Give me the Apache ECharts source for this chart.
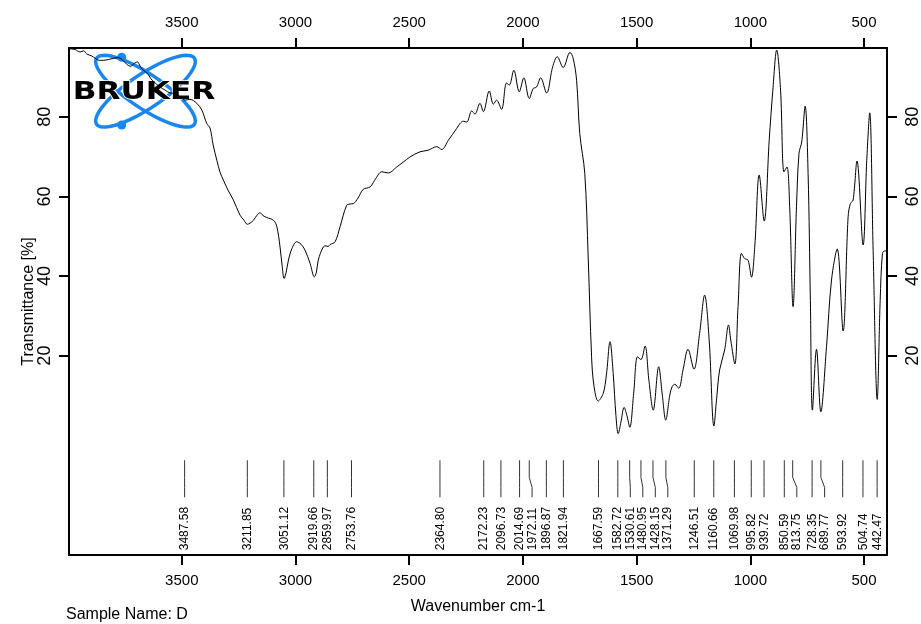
<!DOCTYPE html>
<html>
<head>
<meta charset="utf-8">
<script src="https://cdn.jsdelivr.net/npm/echarts@6/dist/echarts.min.js"></script>
<style>
  html, body { margin: 0; padding: 0; background: #fff; }
  #irSpectrum { width: 921px; height: 624px; }
</style>
</head>
<body>
<div id="irSpectrum"></div>
<script>
// spectrum: wavenumber (cm-1) / transmittance (%)
var wavenumber = [3995, 3969, 3947, 3932, 3918, 3896, 3881, 3863, 3845, 3823, 3801, 3779, 3757, 3742, 3724, 3710, 3695, 3683, 3669, 3651,
	3636, 3617, 3595, 3573, 3551, 3529, 3507, 3485, 3464, 3434, 3412, 3390, 3376, 3362, 3346, 3332, 3317, 3297, 3273, 3244,
	3226, 3212, 3200, 3185, 3169, 3156, 3143, 3126, 3097, 3082, 3068, 3059, 3050, 3041, 3031, 3015, 2995, 2976, 2958, 2936,
	2917, 2908, 2900, 2878, 2866, 2857, 2848, 2826, 2804, 2775, 2760, 2746, 2725, 2702, 2672, 2646, 2621, 2592, 2555, 2527,
	2497, 2453, 2417, 2379, 2357, 2328, 2291, 2277, 2262, 2247, 2225, 2211, 2189, 2174, 2148, 2130, 2116, 2094, 2072, 2060,
	2040, 2016, 1996, 1972, 1955, 1940, 1922, 1896, 1869, 1849, 1823, 1793, 1779, 1764, 1750, 1728, 1713, 1698, 1688, 1669,
	1647, 1633, 1617, 1603, 1591, 1581, 1569, 1555, 1543, 1530, 1513, 1496, 1481, 1463, 1446, 1427, 1403, 1387, 1372, 1354,
	1344, 1332, 1315, 1296, 1274, 1248, 1223, 1201, 1181, 1160, 1148, 1135, 1113, 1096, 1086, 1068, 1054, 1039, 1025, 1010,
	995, 980, 961, 939, 917, 901, 884, 867, 852, 839, 827, 812, 797, 786, 774, 759, 746, 736, 727, 709,
	690, 665, 643, 618, 592, 570, 560, 548, 531, 504, 488, 475, 460, 442, 429, 419, 409, 400];
var transmittance = [97.1, 96.9, 96.3, 96.6, 95.8, 95.3, 94.7, 94.2, 94.2, 94.4, 94.7, 94.9, 94.1, 93.2, 92.7, 93.4, 93.8, 92.7, 91.7, 90.9,
	89.6, 88.5, 87.5, 86.7, 86.0, 85.9, 85.0, 84.2, 84.4, 83.4, 81.7, 78.3, 77.2, 72.9, 69.1, 66.1, 64.1, 61.6, 59.1, 55.3,
	54.0, 53.0, 53.3, 54.0, 55.3, 55.9, 55.2, 54.7, 54.0, 52.4, 47.3, 42.7, 39.4, 41.0, 44.0, 47.0, 48.6, 48.0, 46.5, 43.2,
	39.8, 41.0, 44.0, 47.3, 47.6, 47.4, 47.9, 48.6, 52.4, 57.8, 58.1, 58.2, 59.6, 61.8, 62.4, 64.6, 66.2, 65.9, 67.4, 68.6,
	69.9, 71.2, 71.6, 72.5, 71.8, 74.1, 77.1, 78.3, 78.9, 78.7, 81.5, 80.7, 83.4, 81.3, 86.5, 83.2, 84.2, 81.9, 88.5, 88.0,
	91.7, 86.3, 89.8, 84.6, 87.1, 87.5, 89.8, 86.0, 92.6, 95.1, 92.4, 96.2, 94.7, 89.2, 75.8, 65.8, 44.8, 19.7, 12.6, 8.6,
	10.5, 15.1, 23.5, 15.5, 5.0, 0.4, 3.3, 7.0, 5.0, 2.0, 10.5, 19.7, 19.0, 22.4, 13.8, 6.3, 17.2, 10.1, 3.8, 10.1,
	12.2, 12.8, 11.8, 16.4, 21.6, 16.6, 25.6, 35.2, 23.9, 2.3, 9.3, 16.4, 21.4, 27.7, 23.9, 17.9, 32.3, 45.7, 44.4, 44.0,
	39.7, 47.8, 65.4, 53.8, 74.1, 86.7, 96.8, 86.7, 66.2, 67.4, 57.4, 32.3, 57.4, 70.8, 73.7, 82.7, 65.8, 33.9, 6.3, 21.6,
	5.9, 22.2, 39.0, 46.8, 26.2, 54.9, 58.2, 59.1, 68.9, 47.8, 69.1, 81.0, 46.5, 9.0, 33.9, 45.7, 46.3, 46.3];
// picked peaks
var peakWavenumbers = [3487.58, 3211.85, 3051.12, 2919.66, 2859.97, 2753.76, 2364.80, 2172.23, 2096.73, 2014.69, 1972.11,
	1896.87, 1821.94, 1667.59, 1582.72, 1530.61, 1480.95, 1428.15, 1371.29, 1246.51, 1160.66, 1069.98, 995.82, 939.72,
	850.59, 813.75, 728.35, 689.77, 593.92, 504.74, 442.47];
var xTickValues = [3500, 3000, 2500, 2000, 1500, 1000, 500];
var yTickValues = [20, 40, 60, 80];

var plainFont = "'Liberation Sans', Arial, sans-serif";

// ellipse outline for the logo
var ellipsePoints = function(cx, cy, a, b, ang){
	var pts = [];
	var c = Math.cos(ang), s = Math.sin(ang);
	for (var k = 0; k < 72; k++) {
		var t = k / 72 * Math.PI * 2;
		var ex = a * Math.cos(t), ey = b * Math.sin(t);
		pts.push([cx + ex * c - ey * s, cy + ex * s + ey * c]);
	}
	return pts;
}

// keep peak labels apart, shifting to the right
var spreadLabels = function(xs, gap){
	var out = [];
	for (var i = 0; i < xs.length; i++) {
		out.push(i === 0 ? xs[i] : Math.max(xs[i], out[i - 1] + gap));
	}
	return out;
}

var plainNumber = function(v){ return String(v); };

var chart = echarts.init(document.getElementById('irSpectrum'));
var axisLineStyle = { color: '#000', width: 2 };
var tickStyle = { color: '#000', width: 2 };

var option = {
	animation: false,
	backgroundColor: '#fff',
	grid: { left: 69, right: 34, top: 48, bottom: 69, outerBoundsMode: 'none', containLabel: false },
	xAxis: [{
		type: 'value', position: 'bottom', min: 399, max: 3996, inverse: true,
		name: 'Wavenumber cm-1', nameLocation: 'middle', nameGap: 44, nameMoveOverlap: false,
		nameTextStyle: { fontFamily: plainFont, fontSize: 16, color: '#000' },
		axisLine: { show: true, onZero: false, lineStyle: axisLineStyle },
		axisTick: { show: true, length: 10, customValues: xTickValues, lineStyle: tickStyle },
		axisLabel: { customValues: xTickValues, formatter: plainNumber, margin: 18, fontFamily: plainFont, fontSize: 15, color: '#000' },
		splitLine: { show: false }
	}, {
		type: 'value', position: 'top', min: 399, max: 3996, inverse: true,
		axisLine: { show: true, onZero: false, lineStyle: axisLineStyle },
		axisTick: { show: true, length: 10, customValues: xTickValues, lineStyle: tickStyle },
		axisLabel: { customValues: xTickValues, formatter: plainNumber, margin: 18, fontFamily: plainFont, fontSize: 15, color: '#000' },
		splitLine: { show: false }
	}],
	yAxis: [{
		type: 'value', position: 'left', min: -30.1, max: 97.3,
		name: 'Transmittance [%]', nameLocation: 'middle', nameGap: 32, nameRotate: 90, nameMoveOverlap: false,
		nameTextStyle: { fontFamily: plainFont, fontSize: 16, color: '#000' },
		axisLine: { show: true, onZero: false, lineStyle: axisLineStyle },
		axisTick: { show: true, length: 10, customValues: yTickValues, lineStyle: tickStyle },
		axisLabel: { customValues: yTickValues, formatter: plainNumber, rotate: 90, margin: 15, fontFamily: plainFont, fontSize: 18, color: '#000' },
		splitLine: { show: false }
	}, {
		type: 'value', position: 'right', min: -30.1, max: 97.3,
		axisLine: { show: true, onZero: false, lineStyle: axisLineStyle },
		axisTick: { show: true, length: 10, customValues: yTickValues, lineStyle: tickStyle },
		axisLabel: { customValues: yTickValues, formatter: plainNumber, rotate: 90, margin: 17, fontFamily: plainFont, fontSize: 18, color: '#000' },
		splitLine: { show: false }
	}],
	graphic: [
		{ type: 'polygon', z: 0, shape: { points: ellipsePoints(145.5, 91.2, 59, 17, 34 * Math.PI / 180) },
			style: { fill: 'none', stroke: '#1a86f0', lineWidth: 3.5 } },
		{ type: 'polygon', z: 0, shape: { points: ellipsePoints(145.5, 91.2, 59, 17, -34 * Math.PI / 180) },
			style: { fill: 'none', stroke: '#1a86f0', lineWidth: 3.5 } },
		{ type: 'circle', z: 0, shape: { cx: 121.7, cy: 57.3, r: 4.5 }, style: { fill: '#1a86f0' } },
		{ type: 'circle', z: 0, shape: { cx: 121.7, cy: 125, r: 4.5 }, style: { fill: '#1a86f0' } },
		{ type: 'text', z: 1, x: 144, y: 92.5, scaleX: 1.3,
			style: { text: 'BRUKER', x: 0, y: 0, textAlign: 'center', textVerticalAlign: 'middle',
				font: "bold 24px 'DejaVu Sans'", fill: '#000', stroke: '#fff', lineWidth: 1.5 } },
		{ type: 'text', left: 66, top: 607,
			style: { text: 'Sample Name: D', font: "16px 'Liberation Sans'", fill: '#000' } }
	],
	series: [{
		name: 'Spectrum',
		type: 'line',
		xAxisIndex: 0,
		yAxisIndex: 0,
		z: 5,
		data: wavenumber.map(function(w, i){ return [w, transmittance[i]]; }),
		showSymbol: false,
		smooth: 0.35,
		lineStyle: { color: '#000', width: 1 }
	}, {
		name: 'Peaks',
		type: 'custom',
		xAxisIndex: 0,
		yAxisIndex: 0,
		z: 4,
		data: peakWavenumbers.map(function(w){ return [w, 0]; }),
		encode: { x: 0, y: 1 },
		renderItem: function(params, api){
			var xs = peakWavenumbers.map(function(w){ return api.coord([w, 0])[0]; });
			var lx = spreadLabels(xs, 12.5);
			var i = params.dataIndex;
			var w = peakWavenumbers[i];
			var yTop = api.coord([w, -6.3])[1];
			var yKinkA = api.coord([w, -10.6])[1];
			var yKinkB = api.coord([w, -13.1])[1];
			var yEnd = api.coord([w, -15.6])[1];
			var yText = api.coord([w, -28.9])[1];
			return {
				type: 'group',
				children: [{
					type: 'polyline',
					shape: { points: [[xs[i], yTop], [xs[i], yKinkA], [lx[i], yKinkB], [lx[i], yEnd]] },
					style: { fill: null, stroke: '#333', lineWidth: 1 }
				}, {
					type: 'text',
					x: lx[i], y: yText, rotation: Math.PI / 2, scaleY: 1.1,
					style: { text: w.toFixed(2), x: 0, y: 0, textAlign: 'left', textVerticalAlign: 'middle',
						font: "12px " + plainFont, fill: '#000' }
				}]
			};
		}
	}]
};
chart.setOption(option);
</script>
</body>
</html>
